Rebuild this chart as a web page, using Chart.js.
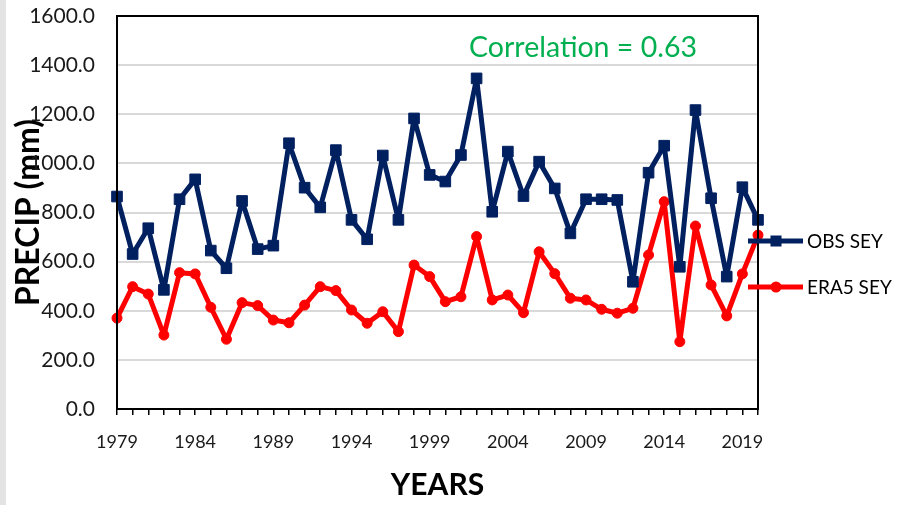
<!DOCTYPE html>
<html>
<head>
<meta charset="utf-8">
<script src="https://cdn.jsdelivr.net/npm/chart.js@4/dist/chart.umd.min.js"></script>
<style>
  html, body { margin: 0; padding: 0; background: #fff; }
  #wrap { width: 901px; height: 505px; position: relative; }
</style>
</head>
<body>
<div id="wrap"><canvas id="grafica"></canvas></div>
<script>
// datos
const years = [1979, 1980, 1981, 1982, 1983, 1984, 1985, 1986, 1987, 1988, 1989, 1990, 1991, 1992,
  1993, 1994, 1995, 1996, 1997, 1998, 1999, 2000, 2001, 2002, 2003, 2004, 2005, 2006,
  2007, 2008, 2009, 2010, 2011, 2012, 2013, 2014, 2015, 2016, 2017, 2018, 2019, 2020];
const obsSey = [865, 631, 736, 485, 854, 935, 645, 573, 847, 651, 665, 1082, 901, 821,
  1054, 770, 691, 1032, 770, 1183, 953, 926, 1034, 1346, 803, 1048, 867, 1007,
  898, 715, 854, 854, 851, 518, 962, 1072, 579, 1217, 858, 539, 903, 770];
const era5Sey = [370, 498, 468, 301, 555, 550, 414, 284, 433, 421, 362, 351, 423, 498,
  482, 403, 349, 396, 315, 586, 539, 437, 457, 702, 444, 464, 392, 640,
  551, 451, 444, 406, 390, 410, 627, 844, 274, 745, 505, 379, 550, 708];
const yTicks = [0, 200, 400, 600, 800, 1000, 1200, 1400, 1600];
const correlationText = 'Correlation = 0.63';

const FONT = 'Lato, "Open Sans", sans-serif';

const extras = {
  id: 'extras',
  beforeDraw(chart) {
    const ctx = chart.ctx;
    ctx.save();
    ctx.fillStyle = '#e3e3e3';
    ctx.fillRect(0, 0, 6, chart.height);
    ctx.restore();
  },
  afterDraw(chart) {
    const { ctx, chartArea: a } = chart;
    ctx.save();
    // marco del area
    ctx.strokeStyle = '#000';
    ctx.lineWidth = 2;
    ctx.strokeRect(a.left, a.top, a.right - a.left, a.bottom - a.top);
    // texto de correlacion
    ctx.fillStyle = '#00B050';
    ctx.font = '28.5px ' + FONT;
    ctx.textAlign = 'center';
    ctx.textBaseline = 'alphabetic';
    ctx.fillText(correlationText, a.left + 466, a.top + 41);
    // leyenda
    const items = [
      { label: 'OBS SEY', color: '#002060', style: 'rect', y: a.top + 225 },
      { label: 'ERA5 SEY', color: '#FF0000', style: 'circle', y: a.top + 271 }
    ];
    items.forEach(it => {
      ctx.strokeStyle = it.color;
      ctx.lineWidth = 5;
      ctx.beginPath();
      ctx.moveTo(a.right - 10, it.y);
      ctx.lineTo(a.right + 45, it.y);
      ctx.stroke();
      ctx.fillStyle = it.color;
      const mx = a.right + 18;
      if (it.style === 'rect') {
        ctx.fillRect(mx - 5.5, it.y - 5.5, 11, 11);
      } else {
        ctx.beginPath();
        ctx.arc(mx, it.y, 5.5, 0, Math.PI * 2);
        ctx.fill();
      }
      ctx.fillStyle = '#000';
      ctx.font = '19px ' + FONT;
      ctx.textAlign = 'left';
      ctx.textBaseline = 'middle';
      ctx.fillText(it.label, a.right + 49, it.y + 1);
    });
    ctx.restore();
  }
};

new Chart(document.getElementById('grafica'), {
  type: 'line',
  data: {
    labels: years,
    datasets: [{
      label: 'OBS SEY',
      data: obsSey,
      borderColor: '#002060',
      backgroundColor: '#002060',
      borderWidth: 5,
      borderJoinStyle: 'round',
      pointStyle: 'rect',
      pointRadius: 7.5,
      pointBorderWidth: 1,
      tension: 0,
      clip: false
    }, {
      label: 'ERA5 SEY',
      data: era5Sey,
      borderColor: '#FF0000',
      backgroundColor: '#FF0000',
      borderWidth: 5,
      borderJoinStyle: 'round',
      pointStyle: 'circle',
      pointRadius: 5,
      pointBorderWidth: 1,
      tension: 0,
      clip: false
    }]
  },
  options: {
    responsive: true,
    maintainAspectRatio: false,
    animation: false,
    devicePixelRatio: 1,
    layout: { padding: { top: 16, right: 143, left: 0, bottom: 0 } },
    plugins: {
      legend: { display: false },
      tooltip: { enabled: false }
    },
    scales: {
      x: {
        type: 'category',
        offset: false,
        afterFit: s => { s.height = 96; s.paddingLeft = 0; s.paddingRight = 0; },
        grid: {
          drawOnChartArea: false,
          drawTicks: true,
          tickLength: 6,
          color: '#000',
          lineWidth: 1.5
        },
        border: { color: '#000', width: 2 },
        ticks: {
          autoSkip: false,
          maxRotation: 0,
          padding: 16,
          color: '#1a1a1a',
          font: { family: FONT, size: 18 },
          callback: function (v, i) {
            const y = years[i];
            return (y - years[0]) % 5 === 0 ? String(y) : '';
          }
        },
        title: {
          display: true,
          text: 'YEARS',
          color: '#000',
          font: { family: FONT, size: 30, weight: 'bold' },
          padding: { top: 0, bottom: 2 }
        }
      },
      y: {
        min: 0,
        max: 1600,
        afterFit: s => { s.width = 117; s.paddingTop = 0; s.paddingBottom = 0; },
        afterBuildTicks: s => { s.ticks = yTicks.map(v => ({ value: v })); },
        grid: {
          color: '#d9d9d9',
          lineWidth: 2,
          drawTicks: false
        },
        border: { color: '#000', width: 2 },
        ticks: {
          padding: 22,
          color: '#1a1a1a',
          font: { family: FONT, size: 21 },
          callback: v => Number(v).toFixed(1)
        },
        title: {
          display: true,
          text: 'PRECIP (mm)',
          color: '#000',
          font: { family: FONT, size: 32, weight: 'bold' },
          padding: { top: 9, bottom: 0 }
        }
      }
    }
  },
  plugins: [extras]
});
</script>
</body>
</html>
